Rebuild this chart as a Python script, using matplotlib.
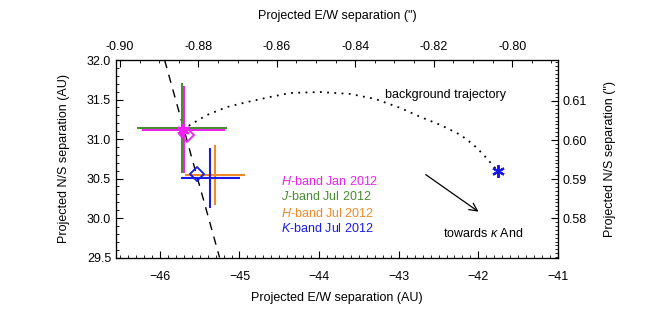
import numpy as np
import matplotlib
matplotlib.use('Agg')
import matplotlib.pyplot as plt

plt.rcParams['font.family'] = ['Liberation Sans', 'DejaVu Sans']
plt.rcParams['mathtext.fontset'] = 'custom'
plt.rcParams['mathtext.it'] = 'Liberation Sans:italic'
plt.rcParams['mathtext.rm'] = 'Liberation Sans'

# measurements: x (E/W, AU), y (N/S, AU), errors
labels = ['$H$-band Jan 2012', '$J$-band Jul 2012', '$H$-band Jul 2012', '$K$-band Jul 2012']
colors = ['#ee22ee', '#4a8c32', '#f08a28', '#1a1ae6']
x_pts = [-45.70, -45.725, -45.31, -45.365]
y_pts = [31.12, 31.14, 30.54, 30.51]
x_err = [0.52, 0.565, 0.38, 0.37]
y_err = [0.55, 0.57, 0.38, 0.38]

# predicted positions (diamonds)
diam_x = [-45.66, -45.53]
diam_y = [31.05, 30.56]
diam_c = ['#ee22ee', '#1a1ae6']

# stationary background position (asterisks)
star_x = [-45.71, -41.756]
star_y = [31.114, 30.595]
star_c = ['#ee22ee', '#1a1ae6']

# background trajectory
traj_x = [-45.71, -45.622, -45.408, -45.156, -44.904, -44.615, -44.363, -43.985,
          -43.607, -43.292, -42.977, -42.725, -42.474, -42.222, -42.058, -41.932,
          -41.844, -41.756]
traj_y = [31.114, 31.177, 31.304, 31.405, 31.468, 31.532, 31.582, 31.595,
          31.570, 31.506, 31.392, 31.278, 31.177, 31.051, 30.924, 30.797,
          30.696, 30.595]

# dashed line
dash_x = [-45.94, -45.25]
dash_y = [32.0, 29.5]

fig = plt.figure(figsize=(6.5, 3.24), dpi=100)
ax = fig.add_axes([0.1785, 0.2052, 0.68, 0.6096])

ax.plot(dash_x, dash_y, color='k', ls=(0, (6, 5)), lw=1.0)
ax.plot(traj_x, traj_y, color='k', ls=(0, (1, 3.0)), lw=1.3)

for i in range(4):
    ax.errorbar(x_pts[i], y_pts[i], xerr=x_err[i], yerr=y_err[i], fmt='none',
                ecolor=colors[i], elinewidth=1.5, capsize=0)

for i in range(2):
    ax.plot(diam_x[i], diam_y[i], marker='D', ms=7, mfc='none', mec=diam_c[i], mew=1.3)
    ax.plot(star_x[i], star_y[i], marker=(6, 2, 0), ms=9, color=star_c[i], mew=1.6)

ax.annotate('', xy=(-41.97, 30.06), xytext=(-42.69, 30.57),
            arrowprops=dict(arrowstyle='->', color='k', lw=0.9, mutation_scale=14))
ax.text(-41.94, 29.80, r'towards $\kappa$ And', fontsize=9, ha='center', va='center')
ax.text(-43.17, 31.56, 'background trajectory', fontsize=9, ha='left', va='center')

leg_y = [30.456, 30.266, 30.063, 29.861]
for i in range(4):
    ax.text(-44.476, leg_y[i], labels[i], color=colors[i], fontsize=9, ha='left', va='center')

ax.set_xlim(-46.55, -41.0)
ax.set_ylim(29.5, 32.0)
ax.set_xticks([-46, -45, -44, -43, -42, -41])
ax.set_xticks(np.arange(-46.5, -41.0, 0.1), minor=True)
ax.set_yticks([29.5, 30.0, 30.5, 31.0, 31.5, 32.0])
ax.set_yticks(np.arange(29.5, 32.0, 0.1), minor=True)
ax.set_yticklabels(['29.5', '30.0', '30.5', '31.0', '31.5', '32.0'])
ax.set_xlabel('Projected E/W separation (AU)', fontsize=9, labelpad=6)
ax.set_ylabel('Projected N/S separation (AU)', fontsize=9, labelpad=12)
ax.tick_params(which='both', direction='in', labelsize=9)
ax.tick_params(which='major', length=5)
ax.tick_params(which='minor', length=2.5)
ax.tick_params(axis='x', which='major', pad=10)

# top axis in arcsec
axt = ax.twiny()
axt.set_xlim(-0.901, -0.7883)
axt.set_xticks([-0.90, -0.88, -0.86, -0.84, -0.82, -0.80])
axt.set_xticklabels(['-0.90', '-0.88', '-0.86', '-0.84', '-0.82', '-0.80'])
axt.set_xticks(np.arange(-0.900, -0.788, 0.005), minor=True)
axt.set_xlabel('Projected E/W separation (")', fontsize=9, labelpad=16)
axt.tick_params(which='both', direction='in', labelsize=9)
axt.tick_params(which='major', length=5, pad=5)
axt.tick_params(which='minor', length=2.5)

# right axis in arcsec
axr = ax.twinx()
axr.set_ylim(0.5699, 0.6205)
axr.set_yticks([0.58, 0.59, 0.60, 0.61])
axr.set_yticklabels(['0.58', '0.59', '0.60', '0.61'])
axr.set_yticks(np.arange(0.570, 0.6205, 0.001), minor=True)
axr.set_ylabel('Projected N/S separation (")', fontsize=9, labelpad=12)
axr.tick_params(which='both', direction='in', labelsize=9)
axr.tick_params(which='major', length=5)
axr.tick_params(which='minor', length=2.5)

plt.savefig('out.png', dpi=100)
